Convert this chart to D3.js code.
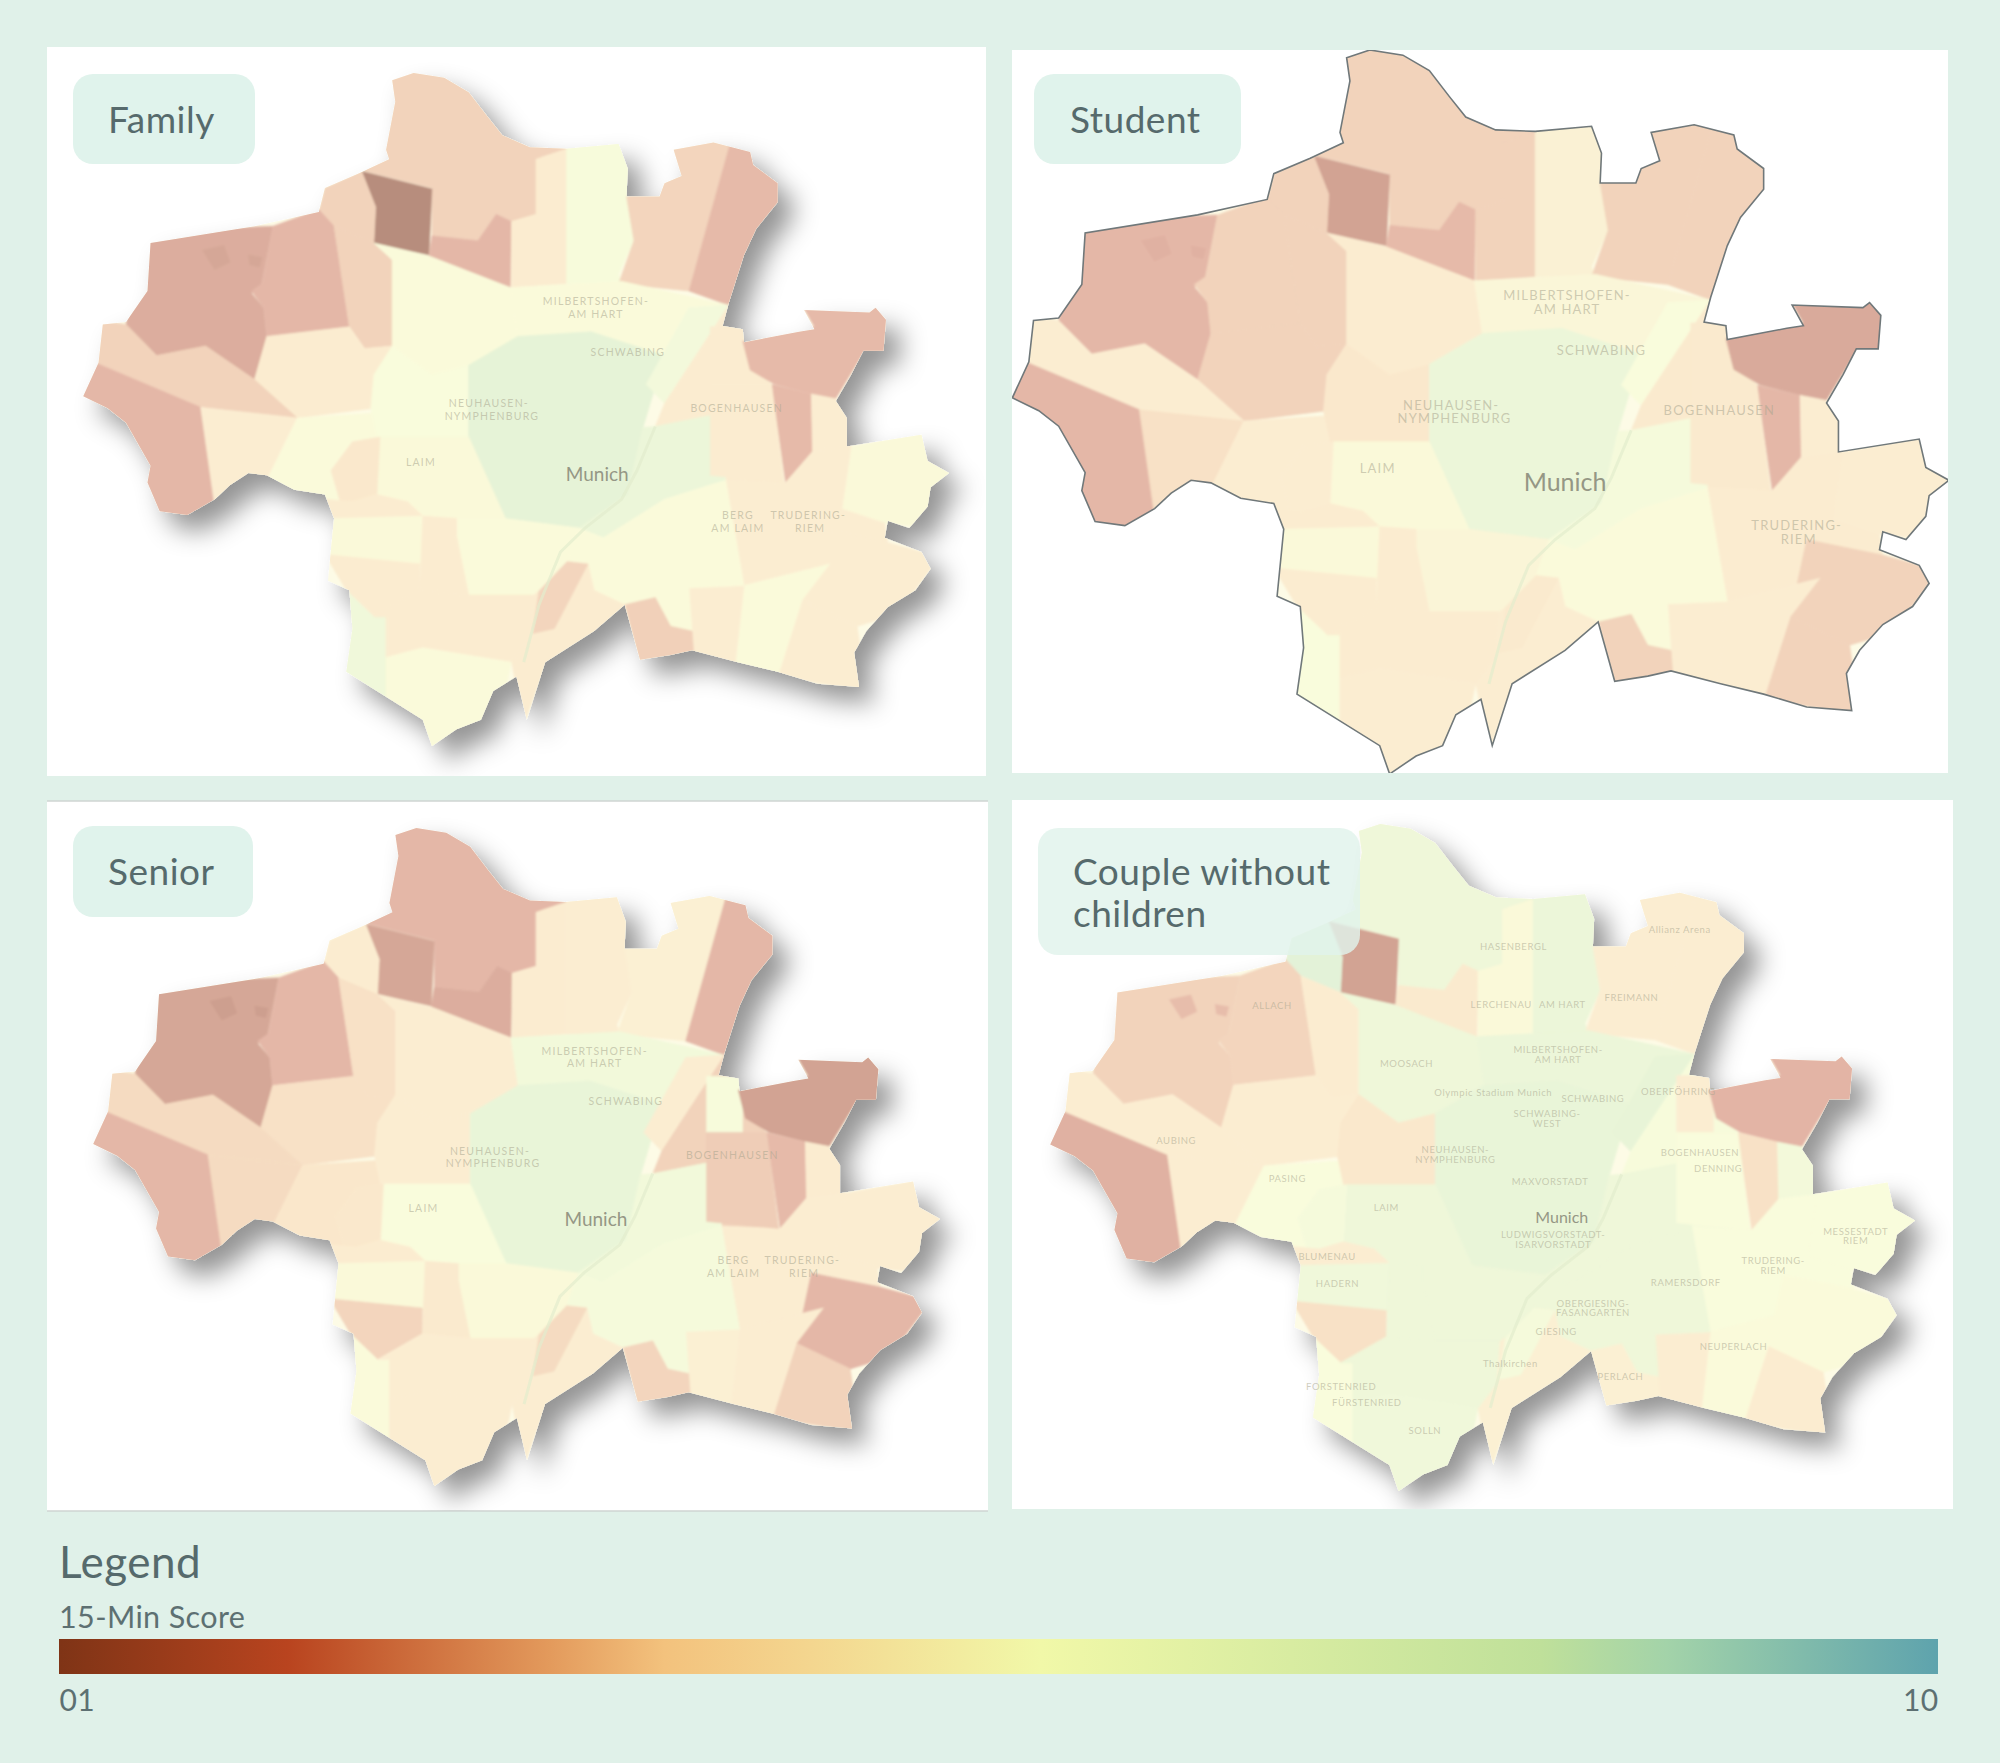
<!DOCTYPE html>
<html>
<head>
<meta charset="utf-8">
<script src="https://cdn.jsdelivr.net/npm/d3@7"></script>
<style>
  body { margin: 0; background: #e0f1e9; }
  text { font-family: Lato, "Noto Sans", sans-serif; }
</style>
</head>
<body>
<script>
// legend colour ramp, score -> colour
var rampScores = [1, 2.1, 3.35, 3.9, 4.6, 5.7, 8.1, 8.7, 10]
var rampColors = ["#7f3416", "#b9441f", "#e39a5c", "#f3c27d", "#f4d68f", "#f1f8a8", "#bfe09a", "#a3d3a9", "#5ea3ad"]

var personas = ["Family", "Student", "Senior", "Couple without children"]

// city border, map units
var cityOutline = [[575,85],[610,70],[660,80],[700,110],[730,160],[755,200],[800,225],[860,228],[945,218],[960,270],[958,328],[1012,328],[1020,300],[1048,285],[1035,230],[1100,215],[1160,235],[1165,262],[1205,300],[1205,340],[1170,395],[1150,450],[1125,550],[1115,598],[1148,605],[1150,632],[1240,610],[1265,605],[1248,565],[1355,570],[1365,560],[1382,585],[1378,650],[1345,650],[1325,700],[1300,755],[1318,790],[1318,850],[1440,825],[1450,880],[1485,905],[1455,935],[1450,975],[1420,1020],[1385,1005],[1380,1040],[1440,1070],[1455,1105],[1430,1150],[1385,1185],[1350,1235],[1330,1280],[1338,1352],[1270,1345],[1205,1320],[1140,1300],[1065,1275],[1030,1285],[980,1295],[955,1180],[905,1235],[825,1300],[795,1420],[778,1330],[740,1360],[720,1420],[680,1440],[640,1475],[625,1420],[500,1320],[510,1230],[505,1150],[470,1130],[480,1000],[465,950],[415,940],[370,910],[340,905],[310,930],[285,960],[240,993],[195,985],[175,925],[180,890],[140,800],[110,770],[70,745],[95,675],[102,595],[140,590],[175,525],[180,425],[350,390],[455,360],[465,310],[520,280],[570,250],[565,230],[580,130]]

// districts, overshoot the border and get clipped by it
var districtShapes = [
  [[540,50],[760,50],[870,228],[820,245],[810,365],[770,380],[745,365],[715,420],[640,410],[640,310],[530,275]],
  [[525,275],[640,312],[635,450],[545,425],[548,350]],
  [[640,410],[715,420],[745,365],[770,380],[768,518],[635,452]],
  [[455,360],[465,310],[525,275],[548,350],[545,425],[480,390]],
  [[810,250],[860,228],[860,510],[770,518],[770,380],[810,365]],
  [[860,210],[965,210],[960,330],[970,420],[945,490],[950,510],[860,510]],
  [[945,510],[970,420],[958,328],[1020,300],[1030,200],[1130,205],[1060,525]],
  [[1130,205],[1220,230],[1220,340],[1125,555],[1060,525]],
  [[170,400],[380,390],[360,520],[345,530],[365,560],[370,620],[350,710],[270,640],[190,660],[140,595]],
  [[380,390],[455,355],[480,390],[505,600],[370,620],[365,560],[345,525],[362,510]],
  [[480,390],[545,425],[575,460],[575,640],[530,645],[505,600]],
  [[370,620],[505,600],[530,645],[575,640],[545,770],[420,790],[350,710]],
  [[90,585],[140,595],[190,660],[270,640],[350,710],[420,790],[260,768],[90,675]],
  [[50,665],[90,675],[262,768],[290,980],[190,1010],[50,760]],
  [[262,768],[420,790],[370,920],[285,975]],
  [[420,790],[545,780],[555,830],[510,840],[475,900],[490,965],[465,965],[370,920]],
  [[575,460],[545,425],[635,452],[768,518],[780,620],[700,680],[640,700],[575,640]],
  [[768,518],[950,505],[1125,555],[1060,620],[1020,660],[900,610],[780,620]],
  [[545,700],[575,640],[640,700],[700,680],[700,830],[550,830],[540,770]],
  [[700,680],[780,620],[900,610],[1020,660],[985,810],[960,950],[880,1020],[760,1000],[700,830]],
  [[1060,560],[1125,555],[1020,760],[990,720]],
  [[1020,760],[1125,555],[1150,600],[1150,660],[1195,720],[1215,925],[1120,920],[1115,780],[1005,808]],
  [[1095,600],[1155,600],[1155,720],[1095,720]],
  [[1148,630],[1265,600],[1245,555],[1395,550],[1390,655],[1345,655],[1295,760],[1260,740],[1200,720],[1160,690]],
  [[1195,720],[1260,740],[1262,860],[1218,925]],
  [[1260,740],[1300,750],[1325,790],[1325,850],[1262,860]],
  [[1325,850],[1500,810],[1500,1025],[1380,1010],[1310,980]],
  [[1120,920],[1218,925],[1262,860],[1325,850],[1310,980],[1380,1010],[1385,1050],[1270,1020],[1290,1095],[1150,1140]],
  [[1270,1020],[1385,1050],[1470,1080],[1400,1200],[1335,1225],[1245,1170]],
  [[1245,1170],[1335,1225],[1350,1360],[1205,1330]],
  [[1150,1140],[1290,1095],[1245,1170],[1205,1330],[1135,1310]],
  [[1060,1145],[1150,1140],[1135,1310],[1065,1280]],
  [[985,810],[1005,808],[1115,780],[1120,920],[1020,960],[920,1040],[880,1020],[960,950]],
  [[880,1020],[920,1040],[1020,960],[1120,920],[1150,1140],[1060,1145],[1065,1235],[1030,1225],[1005,1165],[955,1180],[905,1150],[895,1095],[860,1090]],
  [[955,1180],[1005,1165],[1030,1225],[1065,1235],[1068,1285],[975,1305]],
  [[860,1090],[895,1095],[905,1150],[955,1180],[980,1310],[825,1310],[790,1430],[770,1300],[800,1250],[805,1160]],
  [[860,1090],[895,1095],[840,1230],[805,1240],[815,1150]],
  [[760,1000],[880,1020],[860,1090],[815,1150],[805,1160],[700,1160],[680,1035],[680,1000]],
  [[555,830],[700,830],[760,1000],[680,1000],[625,995],[600,965],[550,950]],
  [[475,900],[510,840],[555,830],[550,950],[510,965],[490,965]],
  [[465,960],[510,965],[550,950],[600,965],[625,995],[480,1010]],
  [[475,1000],[625,995],[625,1100],[470,1075]],
  [[465,1075],[620,1095],[620,1150],[545,1205],[500,1150]],
  [[625,995],[680,1000],[680,1035],[700,1160],[620,1150]],
  [[490,1145],[500,1150],[545,1205],[565,1205],[565,1425],[490,1320]],
  [[545,1205],[620,1150],[700,1160],[805,1160],[800,1250],[770,1300],[625,1270],[565,1290],[565,1205]],
  [[565,1290],[625,1270],[770,1300],[745,1450],[620,1490],[565,1425]],
  [[265,440],[300,430],[310,465],[285,480]],
  [[340,450],[362,455],[358,475],[342,470]],
  [[1095,720],[1195,720],[1215,925],[1095,910]]
]

// 15-min score per district, same order as districtShapes
var familyScores  = [3.2, 1.0, 2.2, 3.2, 4.4, 6.0, 3.3, 2.3, 1.9, 2.2, 3.2, 4.4, 3.2, 2.2, 4.5, 5.5, 5.5, 5.5, 5.8, 8.0, 6.4, 4.4, 4.4, 2.3, 2.3, 4.5, 5.4, 4.5, 4.5, 4.5, 5.5, 4.5, 7.3, 5.5, 3.1, 4.4, 3.3, 5.5, 5.4, 4.0, 4.4, 5.4, 4.4, 4.4, 6.8, 4.4, 5.5, 1.7, 1.7, 4.4]
var studentScores = [3.2, 1.6, 2.3, 3.2, 3.2, 4.8, 3.2, 3.2, 2.2, 3.2, 3.2, 3.2, 4.5, 2.2, 3.7, 4.5, 4.4, 5.2, 4.0, 7.3, 5.7, 4.2, 4.2, 1.8, 2.2, 4.5, 4.5, 4.4, 3.2, 3.2, 4.5, 4.5, 6.2, 5.5, 3.2, 4.5, 4.2, 5.1, 5.4, 4.5, 4.4, 5.4, 4.4, 4.4, 5.7, 4.4, 4.5, 2.0, 2.0, 4.2]
var seniorScores  = [2.2, 1.7, 1.9, 4.4, 4.4, 4.5, 4.7, 2.2, 1.7, 2.2, 3.7, 3.7, 3.5, 2.2, 3.5, 3.9, 4.5, 6.6, 4.5, 7.6, 4.5, 3.2, 6.0, 1.6, 2.3, 4.4, 4.5, 4.5, 2.2, 3.2, 4.5, 4.7, 6.6, 6.2, 3.3, 4.5, 3.5, 5.4, 5.8, 4.0, 4.4, 5.4, 3.3, 4.2, 5.5, 4.5, 4.5, 1.5, 1.5, 3.0]
var coupleScores  = [7.0, 1.6, 4.2, 8.2, 5.4, 7.3, 4.5, 4.5, 3.2, 3.3, 4.4, 4.5, 4.5, 2.0, 4.5, 5.8, 7.0, 7.3, 4.0, 7.6, 7.8, 6.0, 4.5, 2.1, 3.7, 6.5, 5.7, 5.7, 5.5, 4.4, 5.5, 4.5, 7.0, 7.0, 4.7, 4.7, 6.2, 7.0, 7.0, 6.2, 4.5, 6.8, 3.7, 7.0, 5.8, 7.0, 6.8, 2.4, 2.4, 5.8]
var panelScores = [familyScores, studentScores, seniorScores, coupleScores]

// basemap text
var baseLabels = [["MILBERTSHOFEN-",908,548],["AM HART",908,575],["SCHWABING",960,655],["NEUHAUSEN-",733,762],["NYMPHENBURG",738,788],["LAIM",622,885],["BOGENHAUSEN",1138,772],["TRUDERING-",1255,995],["RIEM",1258,1022]]
var bergLabels = [["BERG",1140,995],["AM LAIM",1140,1022]]
var coupleLabels = [["ALLACH",433,455],["FREIMANN",1021,437],["HASENBERGL",828,330],["LERCHENAU",808,453],["AM HART",908,452],["AUBING",276,738],["MOOSACH",653,576],["MILBERTSHOFEN-",901,548],["AM HART",901,568],["Olympic Stadium Munich",795,638],["SCHWABING",958,650],["SCHWABING-",883,682],["WEST",883,703],["OBERFÖHRING",1098,635],["NEUHAUSEN-",733,758],["NYMPHENBURG",733,778],["PASING",458,818],["LAIM",620,880],["MAXVORSTADT",888,826],["BOGENHAUSEN",1133,765],["DENNING",1163,798],["LUDWIGSVORSTADT-",893,938],["ISARVORSTADT",893,958],["MESSESTADT",1388,930],["RIEM",1388,950],["TRUDERING-",1253,992],["RIEM",1253,1012],["BLUMENAU",523,983],["HADERN",540,1040],["RAMERSDORF",1110,1038],["OBERGIESING-",958,1082],["FASANGARTEN",958,1102],["GIESING",898,1142],["NEUPERLACH",1188,1172],["Thalkirchen",823,1208],["FORSTENRIED",546,1258],["FÜRSTENRIED",588,1290],["SOLLN",683,1350],["PERLACH",1003,1237],["Allianz Arena",1100,295]]
var panelLabels = [baseLabels.concat(bergLabels), baseLabels, baseLabels.concat(bergLabels), coupleLabels]

// isar, faint line through the middle
var riverLine = [[1005,808],[975,900],[950,960],[890,1020],[850,1070],[815,1180],[790,1300]]

var tickValues = [1, 10]

var width = 2000, height = 1763

var svg = d3.select("body").append("svg")
  .attr("width", width)
  .attr("height", height)
  .style("display", "block")

svg.append("rect").attr("width", width).attr("height", height).attr("fill", "#e0f1e9")

var defs = svg.append("defs")
var shadow = defs.append("filter").attr("id", "shadow")
  .attr("x", "-10%").attr("y", "-10%").attr("width", "125%").attr("height", "125%")
shadow.append("feDropShadow")
  .attr("dx", 15).attr("dy", 16).attr("stdDeviation", 13)
  .attr("flood-color", "#000").attr("flood-opacity", 0.42)

defs.append("filter").attr("id", "soft")
  .append("feGaussianBlur").attr("stdDeviation", 0.9)

var color = d3.scaleLinear().domain(rampScores).range(rampColors).clamp(true)
// the map layer is washed out, the worst scores a bit less so
var fade = d3.scaleLinear().domain([1, 2.1, 10]).range([0.56, 0.4, 0.4])
function tileColor(score) {
  return d3.interpolateRgb("#fff", color(score))(fade(score))
}

// panel layout on the page, map box is where the city border lands
var layout = [
  { x: 47, y: 47, w: 939, h: 729, mapX: [82, 949], mapY: [73, 746], box: [73, 74, 182, 90], textX: 108, textY: 133, munich: [910, 912], shadow: true },
  { x: 1012, y: 50, w: 936, h: 723, mapX: [1011, 1949], mapY: [50, 774], box: [1034, 74, 207, 90], textX: 1070, textY: 133, munich: [905, 913], shadow: false },
  { x: 47, y: 801, w: 941, h: 710, mapX: [92, 940], mapY: [828, 1486], box: [73, 826, 180, 91], textX: 108, textY: 885, munich: [910, 909], shadow: true },
  { x: 1012, y: 800, w: 941, h: 709, mapX: [1049, 1915], mapY: [824, 1491], box: [1038, 828, 322, 127], textX: 1073, textY: 885, munich: [907, 902], shadow: true }
]

personas.forEach(function (name, i) {
  var p = layout[i]
  var x = d3.scaleLinear().domain([68, 1485]).range(p.mapX)
  var y = d3.scaleLinear().domain([70, 1475]).range(p.mapY)
  var line = d3.line().x(function (d) { return x(d[0]) }).y(function (d) { return y(d[1]) })
  var panelClip = "panel-" + i, cityClip = "city-" + i

  defs.append("clipPath").attr("id", panelClip).append("rect")
    .attr("x", p.x).attr("y", p.y).attr("width", p.w).attr("height", p.h)
  defs.append("clipPath").attr("id", cityClip).append("path")
    .attr("d", line(cityOutline) + "Z")

  svg.append("rect")
    .attr("x", p.x).attr("y", p.y).attr("width", p.w).attr("height", p.h)
    .attr("fill", "#fff")

  if (i == 2) {
    svg.append("line").attr("x1", p.x).attr("x2", p.x + p.w).attr("y1", p.y + p.h).attr("y2", p.y + p.h)
      .attr("stroke", "#cfd5d2").attr("stroke-width", 1.5)
    svg.append("line").attr("x1", p.x).attr("x2", p.x + p.w).attr("y1", p.y).attr("y2", p.y)
      .attr("stroke", "#cfd5d2").attr("stroke-width", 1.5)
  }

  var panel = svg.append("g").attr("clip-path", "url(#" + panelClip + ")")

  // base carries the shadow
  panel.append("path")
    .attr("d", line(cityOutline) + "Z")
    .attr("fill", "#fdfbe6")
    .attr("filter", p.shadow ? "url(#shadow)" : null)

  var fills = panel.append("g")
    .attr("clip-path", "url(#" + cityClip + ")")
    .append("g")
    .attr("filter", "url(#soft)")

  fills.selectAll("path")
    .data(districtShapes)
    .join("path")
    .attr("d", function (d) { return line(d) + "Z" })
    .attr("fill", function (d, j) { return tileColor(panelScores[i][j]) })
    .attr("stroke", function (d, j) { return tileColor(panelScores[i][j]) })
    .attr("stroke-width", 0.6)

  panel.append("path")
    .attr("d", line(riverLine))
    .attr("fill", "none")
    .attr("stroke", "#e3eccd")
    .attr("stroke-width", 3)
    .attr("opacity", 0.7)

  if (i == 1) {
    panel.append("path")
      .attr("d", line(cityOutline) + "Z")
      .attr("fill", "none")
      .attr("stroke", "#70787a")
      .attr("stroke-width", 1.6)
  }

  panel.selectAll("text.place")
    .data(panelLabels[i])
    .join("text")
    .attr("class", "place")
    .attr("x", function (d) { return x(d[1]) })
    .attr("y", function (d) { return y(d[2]) })
    .attr("text-anchor", "middle")
    .attr("dominant-baseline", "middle")
    .attr("font-size", i == 3 ? 9.5 : (i == 1 ? 13 : 10.5))
    .attr("letter-spacing", i == 3 ? 0.6 : 1.2)
    .attr("fill", "#a8a58e")
    .attr("fill-opacity", 0.55)
    .text(function (d) { return d[0] })

  panel.append("text")
    .attr("x", x(p.munich[0]))
    .attr("y", y(p.munich[1]))
    .attr("text-anchor", "middle")
    .attr("dominant-baseline", "middle")
    .attr("font-size", i == 1 ? 25 : (i == 3 ? 16 : 19))
    .attr("fill", "#959785")
    .text("Munich")

  // persona tag
  svg.append("rect")
    .attr("x", p.box[0]).attr("y", p.box[1]).attr("width", p.box[2]).attr("height", p.box[3])
    .attr("rx", 20)
    .attr("fill", "#e0f3ec")
    .attr("fill-opacity", i == 3 ? 0.82 : 1)

  var tagLines = i == 3 ? ["Couple without", "children"] : [name]
  svg.selectAll("text.tag" + i)
    .data(tagLines)
    .join("text")
    .attr("class", "tag" + i)
    .attr("x", p.textX)
    .attr("y", function (d, k) { return p.textY + k * 42 })
    .attr("font-size", 37)
    .attr("letter-spacing", 0.5)
    .attr("fill", "#566a6c")
    .text(function (d) { return d })
})

// legend
var legendX = d3.scaleLinear().domain([1, 10]).range([59, 1938])

var gradient = defs.append("linearGradient").attr("id", "ramp")
gradient.selectAll("stop")
  .data(rampScores)
  .join("stop")
  .attr("offset", function (d) { return (d - 1) / 9 })
  .attr("stop-color", function (d, i) { return rampColors[i] })

svg.append("text").attr("x", 59).attr("y", 1578)
  .attr("font-size", 44).attr("letter-spacing", 0.5).attr("fill", "#566a6c").text("Legend")

svg.append("text").attr("x", 59).attr("y", 1628)
  .attr("font-size", 30.5).attr("letter-spacing", 0.4).attr("fill", "#5d7072").text("15-Min Score")

svg.append("rect")
  .attr("x", legendX(1)).attr("y", 1639)
  .attr("width", legendX(10) - legendX(1)).attr("height", 35)
  .attr("fill", "url(#ramp)")

var axis = svg.append("g")
  .attr("transform", "translate(0,1674)")
  .call(d3.axisBottom(legendX).tickValues(tickValues).tickFormat(d3.format("02")).tickSize(0).tickPadding(16))

axis.select(".domain").remove()
axis.selectAll("text")
  .attr("font-size", 30)
  .attr("letter-spacing", 0.4)
  .attr("fill", "#5d7072")
  .style("font-family", "Lato, 'Noto Sans', sans-serif")
  .attr("text-anchor", function (d) { return d == 1 ? "start" : "end" })
</script>
</body>
</html>
